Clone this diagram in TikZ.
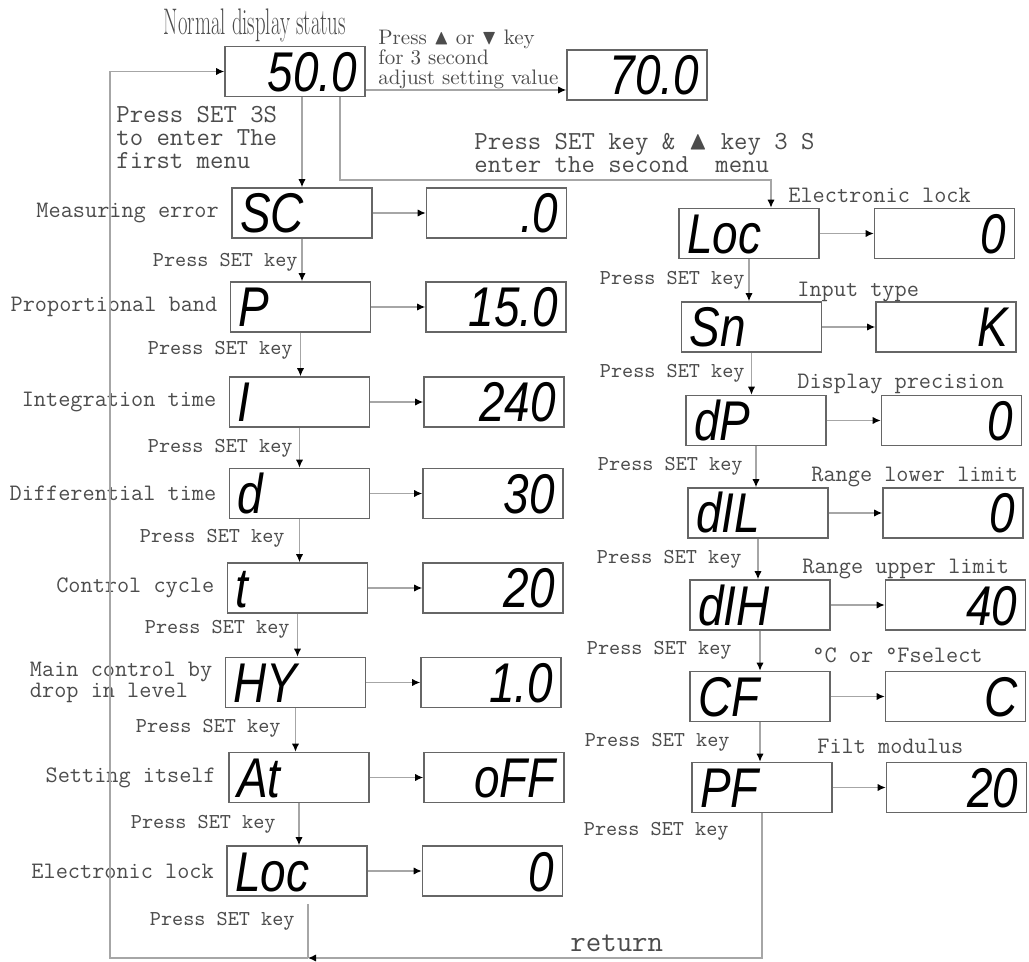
\documentclass[tikz,border=0pt]{standalone}
\usepackage{amssymb}
\usepackage{fontspec}
\newfontfamily\lcdfont{Liberation Sans}
\usetikzlibrary{arrows.meta,positioning,calc}

\newcommand\lcd[1]{{\lcdfont\itshape\fontsize{28}{28}\selectfont\scalebox{0.82}[1]{#1}}}

\begin{document}
\begin{tikzpicture}[x=0.5pt, y=-0.5pt,
  line/.style={draw=black!35, line width=0.6pt},
  arr/.style={line, -{Latex[length=4pt,width=3.6pt,color=black]}},
  keybox/.style={draw=black!60, line width=0.8pt, text width=62pt, align=left,
    text height=20pt, text depth=0pt, inner xsep=4pt, inner ysep=2.5pt},
  valbox/.style={keybox, align=right},
  lab/.style={font=\ttfamily\fontsize{11.8}{9.5}\selectfont, text=black!70, inner sep=0pt, align=left},
  hint/.style={font=\ttfamily\fontsize{10.6}{10}\selectfont, text=black!70, inner sep=0pt},
  big/.style={font=\ttfamily\fontsize{13}{11.5}\selectfont, text=black!70, inner sep=0pt, align=left}]
\useasboundingbox (0,0) rectangle (1029,962);

\node[font=\fontsize{18.5}{18.5}\selectfont, text=black!70, inner sep=0pt, anchor=base] (title) at (255,35) {\scalebox{0.56}[1]{Normal display status}};
\node[valbox] (m) at (295,71.5) {\lcd{50.0}};
\node[valbox] (v0) at (637,75) {\lcd{70.0}};
\node[font=\fontsize{10.5}{10}\selectfont, text=black!70, inner sep=0pt, align=left, anchor=north west] (adjtxt) at (378,30) {Press $\blacktriangle$ or $\blacktriangledown$ key\\for 3 second\\adjust setting value};
\node[big, anchor=north west] (menu1) at (116,106) {Press SET 3S\\to enter The\\first menu};
\node[big, anchor=north west] (menu2) at (474,133) {Press SET key \& $\blacktriangle$ key 3 S\\enter the second\ \ menu};

% first menu
\foreach \i/\y/\kx/\vx/\key/\val/\lbl in {
  1/213/302/496.5/SC/.0/Measuring error,
  2/307/300.5/496/P/15.0/Proportional band,
  3/402/299.5/494/I/240/Integration time,
  4/493.5/299.5/493/d/30/Differential time,
  5/588/297.5/493/t/20/Control cycle,
  6/682.5/295.5/491/HY/1.0/{Main control by\\drop in level},
  7/777.5/299/494/At/oFF/Setting itself,
  8/871/297/492.5/Loc/0/Electronic lock} {
  \node[keybox] (k\i) at (\kx,\y) {\lcd{\key}};
  \node[valbox] (v\i) at (\vx,\y) {\lcd{\val}};
  \node[lab, left=6pt of k\i] (n\i) {\lbl};
  \draw[arr] (k\i) -- (v\i);
}
\foreach \i/\j/\hx/\hy in {1/2/298/262, 2/3/293/350, 3/4/293/448, 4/5/285/538,
  5/6/290/629, 6/7/281/728, 7/8/276/824} {
  \draw[arr] (k\i.south) -- (k\i.south |- k\j.north);
  \node[hint, anchor=east] (p\i) at (\hx,\hy) {Press SET key};
}
\node[hint, anchor=east] (p8) at (295,921) {Press SET key};

% second menu
\foreach \i/\y/\kx/\vx/\key/\val/\lbl/\lx/\ly in {
  1/233.5/749/944.5/Loc/0/Electronic lock/788/203,
  2/327/751.5/946/Sn/K/Input type/797/297,
  3/420.5/756/951.5/dP/0/Display precision/797/389,
  4/513/758/953/dIL/0/Range lower limit/811/482,
  5/605/760/955.5/dIH/40/Range upper limit/802/574,
  6/696.5/760/955.5/CF/C/°C or °Fselect/812/662,
  7/787.5/762/956.5/PF/20/Filt modulus/817/753} {
  \node[keybox] (r\i) at (\kx,\y) {\lcd{\key}};
  \node[valbox] (w\i) at (\vx,\y) {\lcd{\val}};
  \node[lab, anchor=base west] (f\i) at (\lx,\ly) {\lbl};
  \draw[arr] (r\i) -- (w\i);
}
\foreach \i/\j/\hx/\hy in {1/2/745/280, 2/3/745/373, 3/4/743/466, 4/5/742/559,
  5/6/732/650, 6/7/730/742} {
  \draw[arr] (r\i.south) -- (r\i.south |- r\j.north);
  \node[hint, anchor=east] (q\i) at (\hx,\hy) {Press SET key};
}
\node[hint, anchor=east] (q7) at (729,831) {Press SET key};

% connectors from the normal display
\coordinate (adj) at ($(m.east)+(0,18.5)$);
\draw[arr] (adj) -- (adj -| v0.west);
\draw[arr] (k1.north |- m.south) -- (k1.north);
\coordinate (sm) at (340,180);
\draw[arr] (sm |- m.south) -- (sm) -| ([xshift=11pt]r1.north);

% return
\coordinate (ret) at (308,958);
\coordinate (lft) at (110,958);
\draw[line] (ret |- k8.south) ++(0,7) -- (ret);
\draw[arr] (r7.south) |- (ret);
\draw[arr] (ret) -- (lft) |- (m.west);
\node[font=\ttfamily\fontsize{15}{15}\selectfont, text=black!70, inner sep=0pt, anchor=west] (back) at (570,943) {return};
\end{tikzpicture}
\end{document}
